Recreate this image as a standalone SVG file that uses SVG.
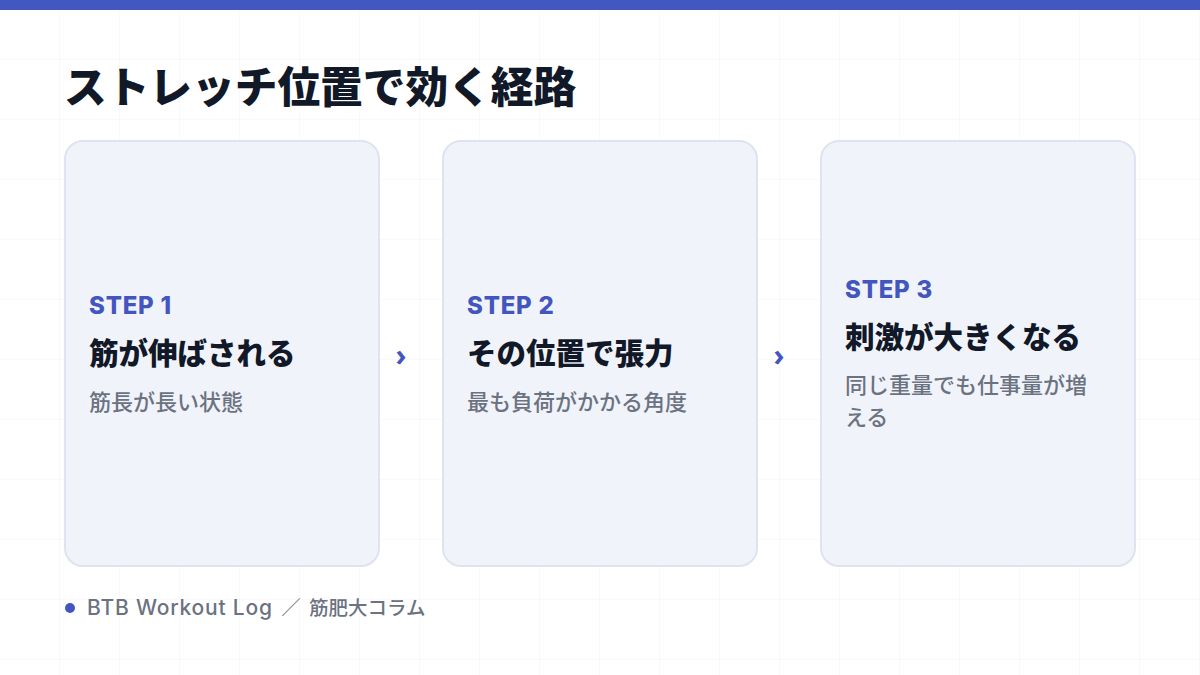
<svg xmlns="http://www.w3.org/2000/svg" width="1200" height="675" viewBox="0 0 1200 675">
<defs>
<pattern id="grid" width="60" height="60" patternUnits="userSpaceOnUse">
<path d="M60 0V60M0 60H60" fill="none" stroke="#f2f3f6" stroke-width="1"/>
</pattern>
</defs>
<style>
.card{fill:#f1f3fb;stroke:#dfe3ef;stroke-width:2}
.step{font-family:Inter,"Noto Sans CJK JP",sans-serif;font-weight:800;font-size:24px;letter-spacing:0.8px;fill:#4356bf}
.ttl{font-family:"Noto Sans CJK JP",sans-serif;font-weight:900;font-size:29.5px;fill:#111827}
.sub{font-family:"Noto Sans CJK JP",sans-serif;font-weight:500;font-size:22px;fill:#6b7280}
.arr{font-family:"Noto Sans",sans-serif;font-weight:700;font-size:30px;fill:#4356bf}
</style>
<rect width="1200" height="675" fill="#ffffff"/>
<rect width="1200" height="675" fill="url(#grid)"/>
<rect width="1200" height="10" fill="#4357c0"/>
<text x="64" y="103" font-family="'Noto Sans CJK JP',sans-serif" font-weight="900" font-size="42.7" fill="#111827">ストレッチ位置で効く経路</text>
<g id="step1">
<rect class="card" x="65" y="141" width="314" height="425" rx="18"/>
<text class="step" x="89" y="314">STEP 1</text>
<text class="ttl" x="89" y="364">筋が伸ばされる</text>
<text class="sub" x="89" y="410">筋長が長い状態</text>
</g>
<g id="step2">
<rect class="card" x="443" y="141" width="314" height="425" rx="18"/>
<text class="step" x="467" y="314">STEP 2</text>
<text class="ttl" x="467" y="364">その位置で張力</text>
<text class="sub" x="467" y="410">最も負荷がかかる角度</text>
</g>
<g id="step3">
<rect class="card" x="821" y="141" width="314" height="425" rx="18"/>
<text class="step" x="845" y="298">STEP 3</text>
<text class="ttl" x="845" y="348">刺激が大きくなる</text>
<text class="sub" x="845" y="393">同じ重量でも仕事量が増</text>
<text class="sub" x="845" y="425">える</text>
</g>
<g id="connectors">
<text class="arr" x="401" y="366" text-anchor="middle">›</text>
<text class="arr" x="779" y="366" text-anchor="middle">›</text>
</g>
<g id="footer">
<circle cx="70" cy="608" r="5" fill="#4356bf"/>
<text x="87" y="615" font-family="Inter,'Noto Sans CJK JP',sans-serif" font-weight="500" font-size="21" letter-spacing="0.8" fill="#6b7280">BTB Workout Log<tspan font-family="'Noto Sans CJK JP',sans-serif" font-size="19.5" letter-spacing="0" dx="4"> ／ </tspan><tspan font-family="'Noto Sans CJK JP',sans-serif" font-size="19.5" letter-spacing="0" dx="4">筋肥大コラム</tspan></text>
</g>
</svg>
